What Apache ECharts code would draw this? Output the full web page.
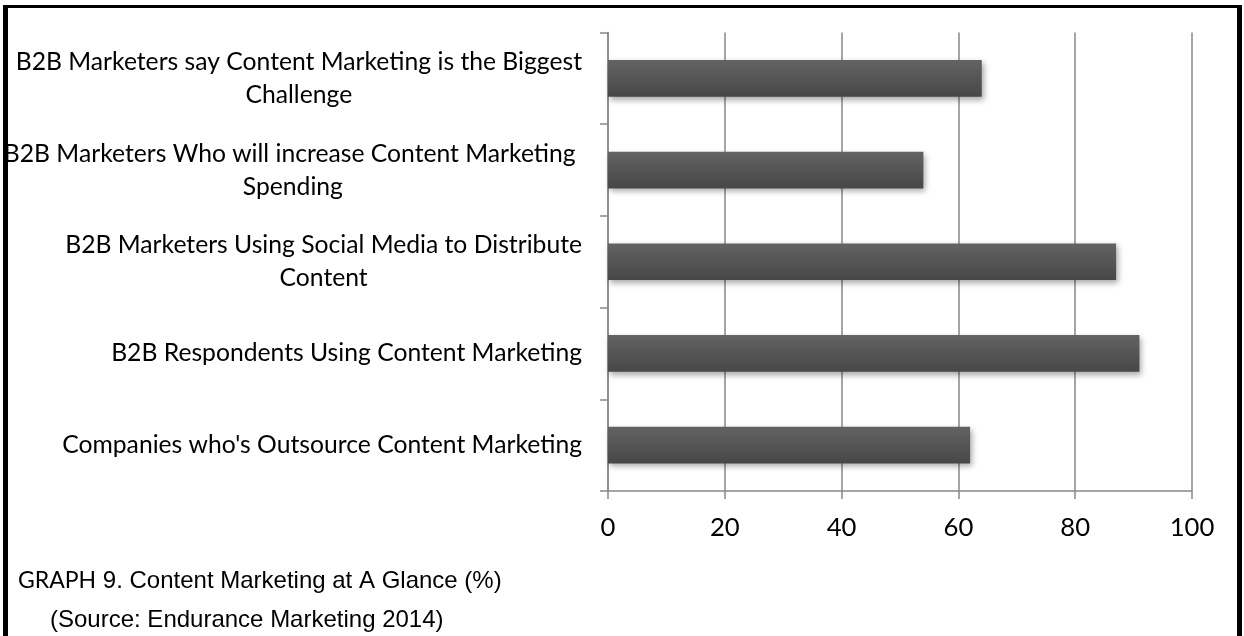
<!DOCTYPE html>
<html>
<head>
<meta charset="utf-8">
<script src="https://cdn.jsdelivr.net/npm/echarts@6/dist/echarts.min.js"></script>
<style>
html,body{margin:0;padding:0;background:#fff;}
#chart{width:1244px;height:636px;}
</style>
</head>
<body>
<div id="chart"></div>
<script>
// Categories listed bottom-to-top (ECharts category y-axis order)
const categories = [
  "Companies who's Outsource Content Marketing",
  "B2B Respondents Using Content Marketing",
  "B2B Marketers Using Social Media to Distribute\nContent",
  "B2B Marketers Who will increase Content Marketing \nSpending",
  "B2B Marketers say Content Marketing is the Biggest\nChallenge"
];
const values = [62, 91, 87, 54, 64];
const xTicks = [0, 20, 40, 60, 80, 100];
const captionLine1a = "GRAPH";
const captionLine1b = " 9. Content Marketing at A Glance (%)";
const captionLine2 = "(Source: Endurance Marketing 2014)";

// font size tuned so the widest single-line label matches the reference width
const cv = document.createElement('canvas').getContext('2d');
cv.font = '100px Lato';
const refW = cv.measureText(categories[0]).width;
const labelFs = Math.round(100 * 519 / refW * 10) / 10;

const chart = echarts.init(document.getElementById('chart'), null, {renderer: 'canvas'});
const axisGray = '#888888';

chart.setOption({
  animation: false,
  backgroundColor: '#ffffff',
  grid: {left: 608, right: 52, top: 32.5, bottom: 145, containLabel: false},
  xAxis: {
    type: 'value',
    min: xTicks[0],
    max: xTicks[xTicks.length - 1],
    interval: xTicks[1] - xTicks[0],
    axisLine: {show: true, lineStyle: {color: axisGray, width: 1.5}},
    axisTick: {show: true, length: 8, lineStyle: {color: axisGray, width: 1.5}},
    splitLine: {show: true, lineStyle: {color: axisGray, width: 1.5}},
    axisLabel: {color: '#000', fontFamily: 'Lato', fontSize: labelFs + 1, margin: 24}
  },
  yAxis: {
    type: 'category',
    data: categories,
    boundaryGap: true,
    axisLine: {show: true, lineStyle: {color: axisGray, width: 1.5}},
    axisTick: {show: true, length: 8, lineStyle: {color: axisGray, width: 1.5}},
    splitLine: {show: false},
    axisLabel: {
      margin: 26,
      align: 'right',
      formatter: function (v) {
        return v.split('\n').map(function (l) { return '{c|' + l + '}'; }).join('\n');
      },
      rich: {
        c: {align: 'center', color: '#000', fontFamily: 'Lato', fontSize: labelFs, lineHeight: 33}
      }
    }
  },
  series: [{
    type: 'bar',
    data: values,
    barWidth: '40%',
    itemStyle: {
      color: new echarts.graphic.LinearGradient(0, 0, 0, 1, [
        {offset: 0, color: '#636363'},
        {offset: 1, color: '#474747'}
      ]),
      shadowColor: 'rgba(0,0,0,0.35)',
      shadowBlur: 6,
      shadowOffsetX: 2,
      shadowOffsetY: 3
    }
  }],
  graphic: [
    {type: 'rect', z: 100, shape: {x: 3, y: 5, width: 5, height: 640}, style: {fill: '#000'}},
    {type: 'rect', z: 100, shape: {x: 3, y: 5, width: 1239, height: 3}, style: {fill: '#000'}},
    {type: 'rect', z: 100, shape: {x: 1237, y: 5, width: 5, height: 640}, style: {fill: '#000'}},
    {type: 'text', z: 100, x: 18, y: 581, style: {
      text: '{g|' + captionLine1a + '}{a|' + captionLine1b + '}',
      verticalAlign: 'middle', align: 'left',
      rich: {
        g: {fontFamily: 'Lato', fontSize: 23, fill: '#000'},
        a: {fontFamily: 'Liberation Sans', fontSize: 24, fill: '#000'}
      }
    }},
    {type: 'text', z: 100, x: 50, y: 620, style: {
      text: captionLine2, verticalAlign: 'middle', align: 'left',
      fontFamily: 'Liberation Sans', fontSize: 24, fill: '#000'
    }}
  ]
});
</script>
</body>
</html>
